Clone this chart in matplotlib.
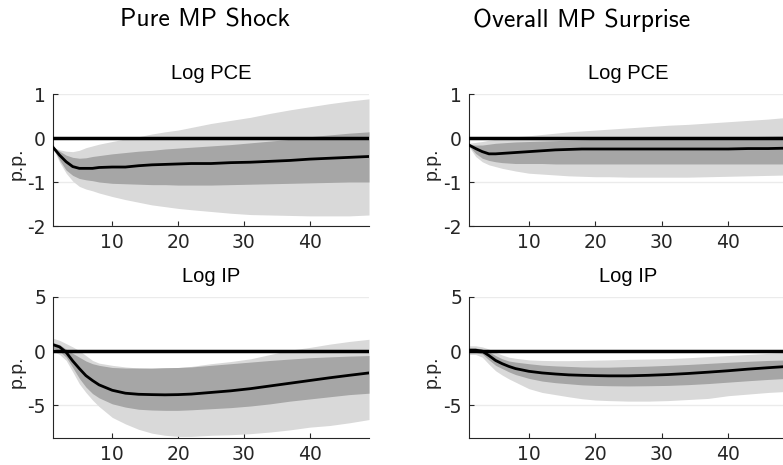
import matplotlib
matplotlib.use("Agg")
import matplotlib.pyplot as plt
import numpy as np

plt.rcParams["axes.unicode_minus"] = False

horizons = [1, 2, 3, 4, 5, 6, 7, 8, 10, 12, 14, 16, 18, 20, 22, 25, 28, 31, 34, 37, 40, 43, 46, 49]

col_titles = ["Pure MP Shock", "Overall MP Surprise"]
row_titles = ["Log PCE", "Log IP"]

# Pure MP shock - Log PCE
pure_pce_med = [-0.21, -0.39, -0.54, -0.65, -0.69, -0.69, -0.69, -0.67, -0.66, -0.66, -0.63, -0.61, -0.60, -0.59, -0.58, -0.58, -0.56, -0.55, -0.53, -0.51, -0.48, -0.46, -0.44, -0.42]
pure_pce_in_up = [-0.20, -0.30, -0.39, -0.44, -0.46, -0.45, -0.42, -0.40, -0.36, -0.33, -0.30, -0.28, -0.25, -0.23, -0.21, -0.18, -0.15, -0.11, -0.07, -0.03, 0.03, 0.07, 0.11, 0.14]
pure_pce_in_lo = [-0.22, -0.50, -0.73, -0.85, -0.92, -0.95, -0.97, -1.00, -1.03, -1.04, -1.05, -1.06, -1.06, -1.07, -1.07, -1.07, -1.06, -1.05, -1.04, -1.03, -1.02, -1.01, -1.00, -1.00]
pure_pce_out_up = [-0.21, -0.27, -0.30, -0.31, -0.28, -0.22, -0.18, -0.14, -0.08, -0.02, 0.03, 0.09, 0.14, 0.18, 0.24, 0.33, 0.40, 0.47, 0.56, 0.64, 0.71, 0.78, 0.84, 0.89]
pure_pce_out_lo = [-0.23, -0.55, -0.80, -0.98, -1.10, -1.16, -1.20, -1.25, -1.33, -1.40, -1.46, -1.52, -1.56, -1.60, -1.63, -1.67, -1.71, -1.74, -1.75, -1.76, -1.77, -1.77, -1.77, -1.75]

# Overall MP surprise - Log PCE
over_pce_med = [-0.16, -0.24, -0.31, -0.36, -0.36, -0.35, -0.34, -0.33, -0.31, -0.29, -0.27, -0.26, -0.25, -0.25, -0.25, -0.25, -0.25, -0.25, -0.25, -0.25, -0.25, -0.24, -0.24, -0.23]
over_pce_in_up = [-0.15, -0.16, -0.16, -0.14, -0.12, -0.11, -0.10, -0.09, -0.08, -0.07, -0.06, -0.05, -0.04, -0.03, -0.03, -0.02, -0.02, -0.02, -0.01, 0.00, 0.02, 0.03, 0.04, 0.05]
over_pce_in_lo = [-0.18, -0.35, -0.46, -0.51, -0.54, -0.56, -0.57, -0.58, -0.58, -0.58, -0.59, -0.59, -0.59, -0.59, -0.59, -0.59, -0.59, -0.59, -0.59, -0.59, -0.59, -0.59, -0.59, -0.59]
over_pce_out_up = [-0.12, -0.10, -0.08, -0.05, -0.03, -0.01, 0.01, 0.03, 0.05, 0.08, 0.11, 0.14, 0.16, 0.18, 0.20, 0.23, 0.26, 0.29, 0.31, 0.34, 0.37, 0.40, 0.43, 0.47]
over_pce_out_lo = [-0.20, -0.42, -0.54, -0.61, -0.65, -0.69, -0.72, -0.75, -0.80, -0.82, -0.84, -0.86, -0.87, -0.88, -0.88, -0.89, -0.89, -0.89, -0.89, -0.88, -0.87, -0.86, -0.85, -0.84]

# Pure MP shock - Log IP
pure_ip_med = [0.6, 0.4, -0.1, -0.9, -1.6, -2.25, -2.7, -3.1, -3.6, -3.87, -3.97, -4.0, -4.02, -4.0, -3.95, -3.8, -3.65, -3.45, -3.2, -2.95, -2.7, -2.45, -2.22, -2.0]
pure_ip_in_up = [0.8, 0.6, 0.2, -0.2, -0.55, -0.9, -1.15, -1.3, -1.5, -1.55, -1.55, -1.55, -1.52, -1.5, -1.45, -1.3, -1.15, -1.0, -0.85, -0.72, -0.6, -0.52, -0.45, -0.4]
pure_ip_in_lo = [0.3, 0.0, -0.55, -1.5, -2.5, -3.3, -3.9, -4.3, -4.85, -5.15, -5.35, -5.42, -5.45, -5.45, -5.4, -5.3, -5.2, -5.05, -4.85, -4.6, -4.4, -4.2, -4.0, -3.87]
pure_ip_out_up = [1.2, 1.0, 0.7, 0.4, 0.05, -0.4, -0.85, -1.1, -1.3, -1.45, -1.55, -1.6, -1.55, -1.5, -1.4, -1.15, -0.95, -0.7, -0.3, 0.1, 0.35, 0.65, 0.9, 1.1]
pure_ip_out_lo = [0.0, -0.3, -0.85, -1.9, -3.0, -3.8, -4.5, -5.1, -6.1, -6.7, -7.2, -7.55, -7.75, -7.85, -7.85, -7.75, -7.7, -7.6, -7.45, -7.25, -7.0, -6.85, -6.6, -6.3]

# Overall MP surprise - Log IP
over_ip_med = [0.1, 0.1, 0.0, -0.4, -0.85, -1.15, -1.4, -1.6, -1.85, -2.0, -2.1, -2.18, -2.22, -2.25, -2.27, -2.27, -2.22, -2.15, -2.05, -1.93, -1.8, -1.65, -1.52, -1.4]
over_ip_in_up = [0.3, 0.3, 0.2, -0.05, -0.4, -0.7, -0.9, -1.0, -1.15, -1.28, -1.35, -1.4, -1.45, -1.47, -1.47, -1.42, -1.37, -1.3, -1.22, -1.12, -1.02, -0.93, -0.85, -0.8]
over_ip_in_lo = [-0.1, -0.1, -0.25, -0.8, -1.3, -1.6, -1.9, -2.15, -2.5, -2.75, -2.9, -3.0, -3.1, -3.15, -3.18, -3.2, -3.18, -3.15, -3.08, -2.98, -2.85, -2.72, -2.6, -2.5]
over_ip_out_up = [0.5, 0.5, 0.4, 0.2, -0.1, -0.35, -0.55, -0.65, -0.8, -0.85, -0.87, -0.87, -0.85, -0.82, -0.8, -0.75, -0.72, -0.68, -0.6, -0.5, -0.4, -0.3, -0.2, -0.1]
over_ip_out_lo = [-0.3, -0.3, -0.55, -1.2, -1.8, -2.2, -2.55, -2.85, -3.45, -3.8, -4.0, -4.2, -4.38, -4.5, -4.55, -4.6, -4.6, -4.55, -4.45, -4.35, -4.1, -3.95, -3.8, -3.7]

pce_yticks = [-2, -1, 0, 1]
ip_yticks = [-5, 0, 5]
xticks = [10, 20, 30, 40]

panels = [
    (0, 0, pure_pce_med, pure_pce_in_up, pure_pce_in_lo, pure_pce_out_up, pure_pce_out_lo),
    (0, 1, over_pce_med, over_pce_in_up, over_pce_in_lo, over_pce_out_up, over_pce_out_lo),
    (1, 0, pure_ip_med, pure_ip_in_up, pure_ip_in_lo, pure_ip_out_up, pure_ip_out_lo),
    (1, 1, over_ip_med, over_ip_in_up, over_ip_in_lo, over_ip_out_up, over_ip_out_lo),
]

W, H = 783, 465
fig = plt.figure(figsize=(W / 100, H / 100), dpi=100)

def px_axes(x0, y0, x1, y1):
    return fig.add_axes([x0 / W, 1 - y1 / H, (x1 - x0) / W, (y1 - y0) / H])

col_x = [(53, 369), (469, 788)]
ylabel_x = [17, 432]
row_y = [(94, 226), (297, 438)]
ylims = [(-2, 1), (-8, 5)]
yticks_list = [pce_yticks, ip_yticks]

axcol = "#262626"
sans = ["Liberation Sans", "DejaVu Sans"]

for r, c, med, iu, il, ou, ol in panels:
    x0, x1 = col_x[c]
    y0, y1 = row_y[r]
    ax = px_axes(x0, y0, x1, y1)
    ax.fill_between(horizons, ol, ou, color="#d9d9d9", lw=0, zorder=1)
    ax.fill_between(horizons, il, iu, color="#a6a6a6", lw=0, zorder=2)
    ax.axhline(0, color="black", lw=2.5, zorder=3)
    ax.plot(horizons, med, color="black", lw=2.0, zorder=4)
    ax.set_xlim(1, 49)
    ax.set_ylim(*ylims[r])
    ax.set_xticks(xticks)
    ax.set_yticks(yticks_list[r])
    ax.yaxis.grid(True, color="#ebebeb", lw=1.0, zorder=0)
    ax.set_axisbelow(True)
    for s in ["top", "right"]:
        ax.spines[s].set_visible(False)
    for s in ["left", "bottom"]:
        ax.spines[s].set_color(axcol)
        ax.spines[s].set_linewidth(0.8)
    ax.tick_params(direction="in", length=3.5, width=0.8, color=axcol, labelcolor=axcol, pad=5)
    for lab in ax.get_xticklabels() + ax.get_yticklabels():
        lab.set_fontfamily(["DejaVu Sans"])
        lab.set_fontsize(13.5)
    ax.set_ylabel("p.p.", fontsize=14, family=sans, color=axcol, va="center")
    ax.yaxis.set_label_coords((ylabel_x[c] - x0) / (x1 - x0), 0.47)
    ax.set_title(row_titles[r], fontsize=14.5, family=sans, pad=11)

fig.text(205 / W, 1 - 20 / H, col_titles[0], ha="center", va="center", fontsize=18.5, family=["cmss10", "DejaVu Sans"])
fig.text(582 / W, 1 - 20 / H, col_titles[1], ha="center", va="center", fontsize=18.5, family=["cmss10", "DejaVu Sans"])

fig.savefig("out.png", dpi=100)
